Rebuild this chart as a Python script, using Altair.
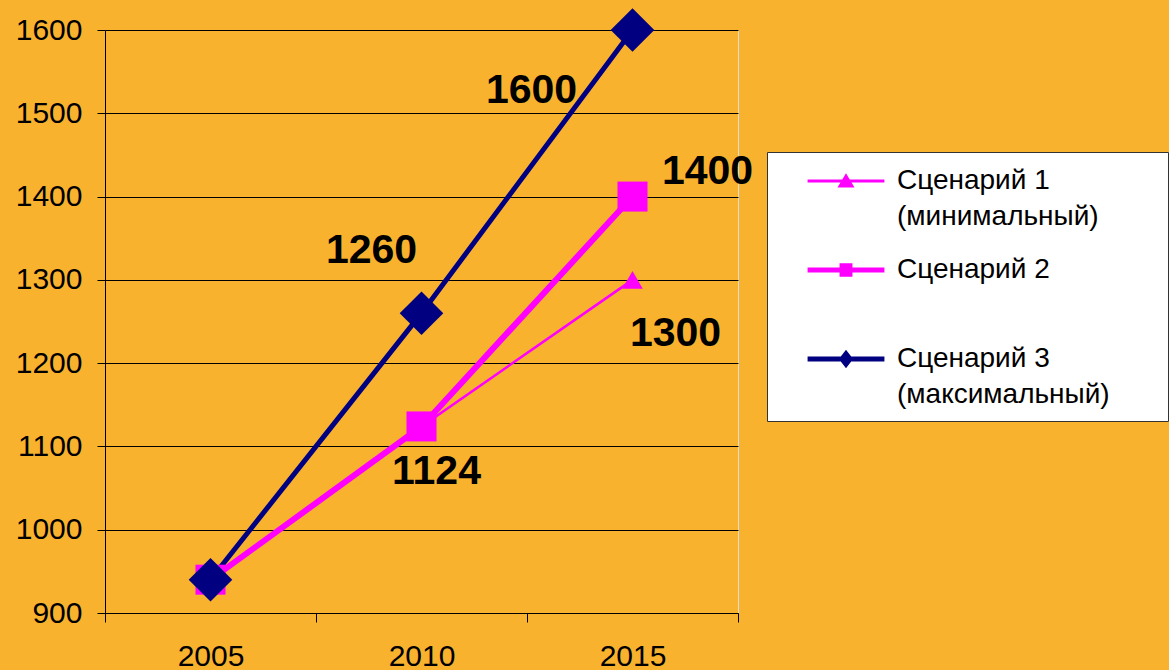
import altair as alt
import pandas as pd

YEARS = ["2005", "2010", "2015"]
SERIES = ["Сценарий 1 (минимальный)", "Сценарий 2", "Сценарий 3 (максимальный)"]
S1 = [940, 1124, 1300]
S2 = [940, 1124, 1400]
S3 = [940, 1260, 1600]
VALUES = [S1, S2, S3]
Y_TICKS = [900, 1000, 1100, 1200, 1300, 1400, 1500, 1600]

COLORS = ["#FF00FF", "#FF00FF", "#000080"]
LINE_WIDTHS = [2.5, 6, 5]
SHAPES = ["triangle-up", "square", "diamond"]
MARKER_SIZES = [420, 900, 1900]
# legend symbols: a line segment with the series marker (unit = half symbol size);
# the trailing move-to widens the legend frame without drawing anything
LEGEND_PATHS = [
    "M-2.26,-0.09H2.26V0.09H-2.26Z M0,-0.45L0.5,0.38H-0.5Z M18.2,0",
    "M-2.26,-0.15H2.26V0.15H-2.26Z M-0.38,-0.4H0.38V0.4H-0.38Z M18.2,0",
    "M-2.26,-0.15H2.26V0.15H-2.26Z M0,-0.55L0.42,0L0,0.55L-0.42,0Z M18.2,0",
]

# data labels: (series index, year index, dx, dy)
LABELS = [(2, 2, -101, 61), (2, 1, -50, -62), (1, 2, 75, -25), (0, 2, 43, 54), (1, 1, 15, 46)]

FONT = "Liberation Sans"

rows = []
for si, name in enumerate(SERIES):
    for yi, yr in enumerate(YEARS):
        rows.append({"series": name, "year": yr, "value": VALUES[si][yi], "order": si})
df = pd.DataFrame(rows)

x_enc = alt.X(
    "year:O",
    scale=alt.Scale(domain=YEARS, type="band", paddingInner=0, paddingOuter=0),
    axis=alt.Axis(
        title=None, labelAngle=0, tickBand="extent", tickSize=9, tickColor="black",
        domainColor="black", domainWidth=1, labelFont=FONT, labelFontSize=30,
        labelColor="black", labelPadding=19, grid=False,
    ),
)
y_enc = alt.Y(
    "value:Q",
    scale=alt.Scale(domain=[900, 1600], nice=False, zero=False),
    axis=alt.Axis(
        title=None, values=Y_TICKS, format="d", tickSize=8, tickColor="black",
        domainColor="black", domainWidth=1, labelFont=FONT, labelFontSize=30,
        labelColor="black", labelPadding=15, grid=True, gridColor="black",
        gridWidth=1, gridOpacity=1,
    ),
)

base = alt.Chart(df)

lines = base.mark_line().encode(
    x=x_enc,
    y=y_enc,
    color=alt.Color("series:N", scale=alt.Scale(domain=SERIES, range=COLORS), legend=None),
    strokeWidth=alt.StrokeWidth(
        "series:N", scale=alt.Scale(type="ordinal", domain=SERIES, range=LINE_WIDTHS), legend=None
    ),
    detail="series:N",
)

points = base.mark_point(filled=True, opacity=1).encode(
    x=x_enc,
    y=y_enc,
    color=alt.Color("series:N", scale=alt.Scale(domain=SERIES, range=COLORS), legend=None),
    shape=alt.Shape("series:N", scale=alt.Scale(domain=SERIES, range=SHAPES), legend=None),
    size=alt.Size(
        "series:N", scale=alt.Scale(type="ordinal", domain=SERIES, range=MARKER_SIZES), legend=None
    ),
    order=alt.Order("order:Q"),
)

label_expr = (
    "indexof(datum.label, ' (') > 0 ? "
    "[slice(datum.label, 0, indexof(datum.label, ' (')), "
    "slice(datum.label, indexof(datum.label, ' (') + 1)] "
    ": [datum.label, ' ']"
)

legend_layer = base.transform_filter("false").mark_point(filled=True, opacity=1).encode(
    x=x_enc,
    y=y_enc,
    color=alt.Color(
        "series:N",
        scale=alt.Scale(domain=SERIES, range=COLORS),
        legend=alt.Legend(
            title=None, orient="none", legendX=662, legendY=122,
            fillColor="white", strokeColor="#333333", padding=12,
            symbolSize=1156, symbolOffset=50, symbolStrokeWidth=0, symbolOpacity=1,
            labelFont=FONT, labelFontSize=28, labelColor="black", labelLimit=500,
            labelOffset=34, rowPadding=22, labelExpr=label_expr,
        ),
    ),
    shape=alt.Shape("series:N", scale=alt.Scale(domain=SERIES, range=LEGEND_PATHS)),
)

text_layers = []
for si, yi, dx, dy in LABELS:
    d = pd.DataFrame([{"year": YEARS[yi], "value": VALUES[si][yi]}])
    text_layers.append(
        alt.Chart(d).mark_text(
            dx=dx, dy=dy, font=FONT, fontSize=41, fontWeight="bold", color="black",
            align="center", baseline="middle",
        ).encode(x=x_enc, y=y_enc, text="value:Q")
    )

chart = alt.layer(lines, points, legend_layer, *text_layers).resolve_scale(
    color="independent", shape="independent"
).properties(
    width=633, height=583,
    padding={"left": 105, "top": 30, "right": 431, "bottom": 57},
    autosize="none",
    background="#F8B22E",
).configure_view(fill="#C0C0C0", stroke=None).configure(
    style={"guide-label": {"lineHeight": 36}}
)

chart.save("out.html", embed_options={"renderer": "svg", "actions": False})
